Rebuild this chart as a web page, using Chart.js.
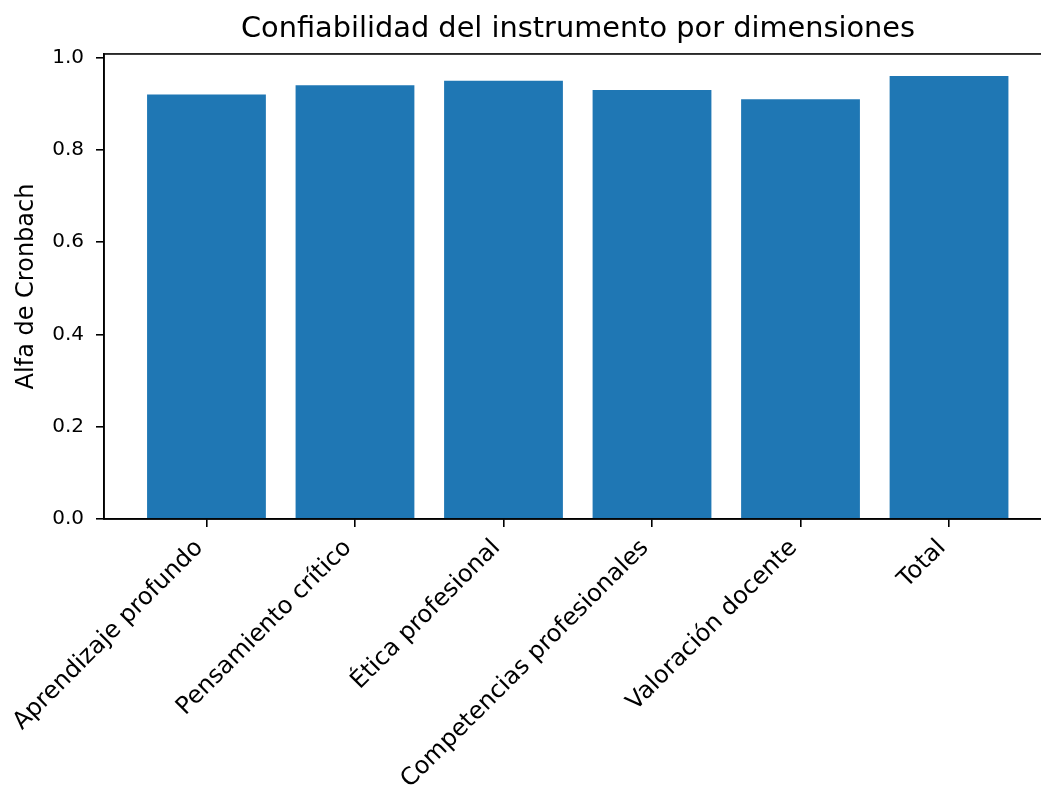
<!DOCTYPE html>
<html>
<head>
<meta charset="utf-8">
<script src="https://cdn.jsdelivr.net/npm/chart.js@4/dist/chart.umd.min.js"></script>
<style>
  html, body { margin: 0; padding: 0; background: #fff; overflow: hidden; }
  #wrap { width: 1041px; height: 786px; overflow: hidden; }
  canvas { display: block; }
</style>
</head>
<body>
<div id="wrap"><canvas id="c" width="1156" height="786"></canvas></div>
<script>
const categories = ["Aprendizaje profundo", "Pensamiento crítico", "Ética profesional", "Competencias profesionales", "Valoración docente", "Total"];
const alphaValues = [0.92, 0.94, 0.95, 0.93, 0.91, 0.96];
const yTicks = [0.0, 0.2, 0.4, 0.6, 0.8, 1.0];
const chartTitle = "Confiabilidad del instrumento por dimensiones";
const yTitle = "Alfa de Cronbach";

const FONT = "'DejaVu Sans', sans-serif";

const spines = {
  id: 'spines',
  afterDatasetsDraw(chart) {
    const {ctx, chartArea: a} = chart;
    ctx.save();
    ctx.strokeStyle = '#000';
    ctx.lineWidth = 1.6;
    ctx.strokeRect(a.left, a.top, a.right - a.left, a.bottom - a.top);
    ctx.restore();
  }
};

new Chart(document.getElementById('c'), {
  type: 'bar',
  data: {
    datasets: [{
      data: categories.map((c, i) => ({x: i, y: alphaValues[i]})),
      backgroundColor: '#1f77b4',
      borderWidth: 0,
      barPercentage: 1.0,
      categoryPercentage: 0.8,
      yAxisID: 'y'
    }]
  },
  options: {
    responsive: false,
    devicePixelRatio: 1,
    animation: false,
    layout: { padding: 0 },
    plugins: {
      legend: { display: false },
      tooltip: { enabled: false },
      title: {
        display: true,
        text: chartTitle,
        color: '#000',
        font: { family: FONT, size: 28.8, weight: 'normal' },
        padding: { top: 12.7, bottom: 6.7 }
      }
    },
    scales: {
      x: {
        type: 'linear',
        offset: false,
        min: -0.69,
        max: 5.69,
        afterBuildTicks(scale) { scale.ticks = categories.map((c, i) => ({value: i})); },
        afterFit(scale) { scale.height = 267; },
        grid: { offset: false, drawOnChartArea: false, drawTicks: true, tickLength: 8, color: '#000', lineWidth: 1.6 },
        border: { display: true, color: '#000', width: 1.6 },
        ticks: {
          autoSkip: false,
          minRotation: 45,
          maxRotation: 45,
          padding: 7,
          labelOffset: -7,
          color: '#000',
          font: { family: FONT, size: 24 },
          callback: (v) => categories[v]
        }
      },
      y: {
        position: 'left',
        min: 0,
        max: 1.008,
        afterBuildTicks(scale) { scale.ticks = yTicks.map(v => ({value: v})); },
        afterFit(scale) { scale.width = 104; },
        grid: { drawOnChartArea: false, drawTicks: true, tickLength: 8, color: '#000', lineWidth: 1.6 },
        border: { display: true, color: '#000', width: 1.6 },
        ticks: {
          padding: 12,
          color: '#000',
          font: { family: FONT, size: 20 },
          callback: (v) => Number(v).toFixed(1)
        },
        title: {
          display: true,
          text: yTitle,
          color: '#000',
          font: { family: FONT, size: 24 },
          padding: { top: 12, bottom: 0 }
        }
      },
      yRight: {
        position: 'right',
        display: true,
        min: 0,
        max: 1,
        afterFit(scale) { scale.width = 104.5; },
        grid: { display: false, drawTicks: false },
        border: { display: false },
        ticks: { display: false }
      }
    }
  },
  plugins: [spines]
});
</script>
</body>
</html>
